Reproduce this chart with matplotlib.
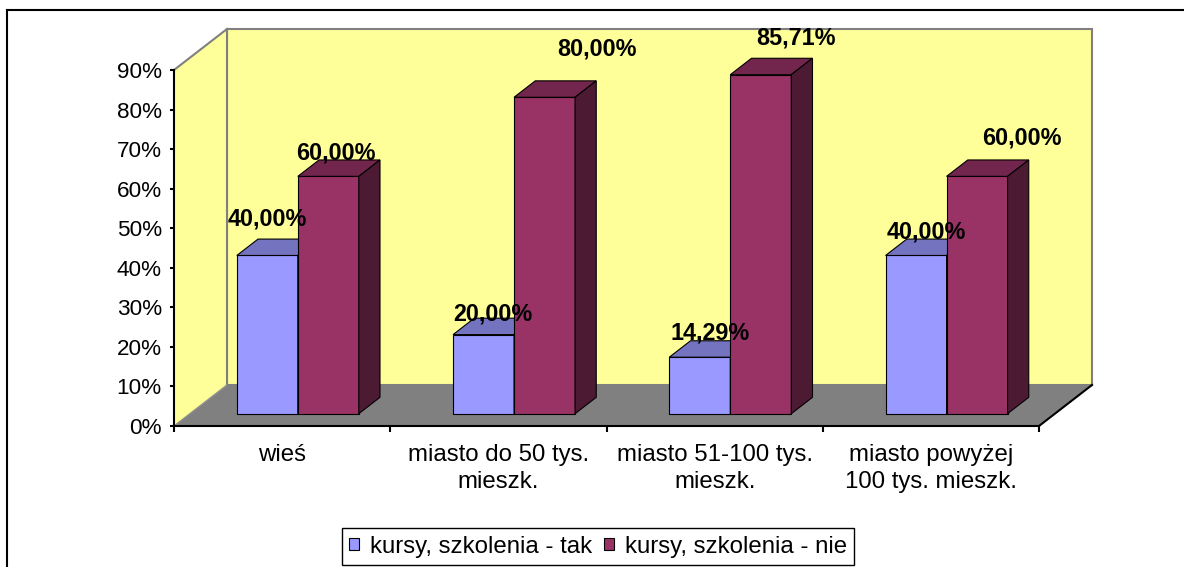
import matplotlib
matplotlib.use("Agg")
import matplotlib.pyplot as plt
from matplotlib.patches import Polygon, Rectangle, Patch
from matplotlib.lines import Line2D

plt.rcParams['font.family'] = ['Liberation Sans', 'DejaVu Sans']

# data
categories = ["wieś", "miasto do 50 tys.\nmieszk.", "miasto 51-100 tys.\nmieszk.",
              "miasto powyżej\n100 tys. mieszk."]
series_names = ["kursy, szkolenia - tak", "kursy, szkolenia - nie"]
tak = [40.00, 20.00, 14.29, 40.00]
nie = [60.00, 80.00, 85.71, 60.00]
yticks = [0, 10, 20, 30, 40, 50, 60, 70, 80, 90]

# label nudges in pixels (Excel placed them a bit irregularly)
tak_nudge = [(0, 36), (9, 21), (10, 24), (10, 23)]
nie_nudge = [(8, 23), (52, 48), (35, 37), (45, 38)]

front_col = ['#9999FF', '#993366']
top_col = ['#7373BF', '#73264D']
side_col = ['#4D4D80', '#4D1A33']
wall = '#FFFF99'
floor_col = '#808080'

W, H = 1184, 567
fig = plt.figure(figsize=(W / 100, H / 100), dpi=100)
ax = fig.add_axes([174 / W, (H - 426) / H, 865 / W, 356 / H])
ax.set_xlim(0, 4)
ax.set_ylim(0, 90)
ax.set_facecolor('none')

px_x = 865 / 4
px_y = 356 / 90
DX = 53 / px_x
DY = 41 / px_y

# walls and floor
ax.add_patch(Polygon([(DX, DY), (4 + DX, DY), (4 + DX, 90 + DY), (DX, 90 + DY)],
                     fc=wall, ec='#808080', lw=1.5, clip_on=False, zorder=0.5))
ax.add_patch(Polygon([(0, 0), (DX, DY), (DX, 90 + DY), (0, 90)],
                     fc=wall, ec='none', clip_on=False, zorder=0.6))
ax.plot([0, DX], [90, 90 + DY], color='#808080', lw=1.5, clip_on=False, zorder=0.7)
ax.plot([DX, DX], [DY, 90 + DY], color='#808080', lw=1.5, clip_on=False, zorder=0.7)
ax.add_patch(Polygon([(0, 0), (4, 0), (4 + DX, DY), (DX, DY)],
                     fc=floor_col, ec='none', clip_on=False, zorder=0.8))
ax.plot([0, DX], [0, DY], color='#909090', lw=1, clip_on=False, zorder=0.9)
ax.plot([4, 4 + DX], [0, DY], color='black', lw=1.5, clip_on=False, zorder=0.9)

gap = 0.217
bw = 0.282
fx, fy = 0.3 * DX, 0.3 * DY
bx, by = 0.4 * DX, 0.4 * DY

for i in range(len(categories)):
    for s, vals in enumerate([tak, nie]):
        v = vals[i]
        x0 = i + gap + s * bw + fx
        y0 = fy
        kw = dict(ec='black', lw=0.8, clip_on=False, zorder=2)
        ax.add_patch(Rectangle((x0, y0), bw, v, fc=front_col[s], **kw))
        ax.add_patch(Polygon([(x0, y0 + v), (x0 + bw, y0 + v), (x0 + bw + bx, y0 + v + by),
                              (x0 + bx, y0 + v + by)], fc=top_col[s], **kw))
        ax.add_patch(Polygon([(x0 + bw, y0), (x0 + bw + bx, y0 + by), (x0 + bw + bx, y0 + v + by),
                              (x0 + bw, y0 + v)], fc=side_col[s], **kw))

for s, (vals, nudge) in enumerate([(tak, tak_nudge), (nie, nie_nudge)]):
    for i, v in enumerate(vals):
        cx = i + gap + s * bw + bw / 2 + fx
        ax.annotate(f"{v:.2f}%".replace('.', ','), xy=(cx, v + fy), xytext=nudge[i],
                    textcoords='offset pixels', ha='center', va='center',
                    fontsize=16.8, fontweight='bold', annotation_clip=False, zorder=5)

# axes
for sp in ['top', 'right']:
    ax.spines[sp].set_visible(False)
for sp in ['left', 'bottom']:
    ax.spines[sp].set_linewidth(1.5)
    ax.spines[sp].set_zorder(3)
ax.set_yticks(yticks)
ax.set_yticklabels([f"{t}%" for t in yticks])
ax.tick_params(axis='y', direction='out', length=3, width=1.5, pad=5.8, labelsize=16.2)
ax.set_xticks(range(5))
ax.set_xticklabels([])
ax.set_xticks([i + 0.5 for i in range(4)], minor=True)
ax.set_xticklabels(categories, minor=True, fontsize=17.3, linespacing=1.3)
ax.tick_params(axis='x', which='major', direction='out', length=4, width=1.5)
ax.tick_params(axis='x', which='minor', length=0, pad=13)

handles = [Patch(fc=front_col[0], ec='black', lw=0.8), Patch(fc=front_col[1], ec='black', lw=0.8)]
leg = fig.legend(handles, series_names, loc='center', bbox_to_anchor=(598 / W, 1 - 546.5 / H),
                 ncol=2, frameon=True, fancybox=False, edgecolor='black', framealpha=1,
                 fontsize=17.3, handlelength=0.42, handleheight=0.42, handletextpad=0.46,
                 columnspacing=0.5, borderpad=0.3, borderaxespad=0)
leg.get_frame().set_linewidth(1.0)

# outer chart border
fig.add_artist(Line2D([7 / W, 7 / W], [0, 1 - 10 / H], transform=fig.transFigure, color='black', lw=1.5))
fig.add_artist(Line2D([7 / W, 1], [1 - 10 / H, 1 - 10 / H], transform=fig.transFigure, color='black', lw=1.5))

fig.savefig("out.png", dpi=100)
